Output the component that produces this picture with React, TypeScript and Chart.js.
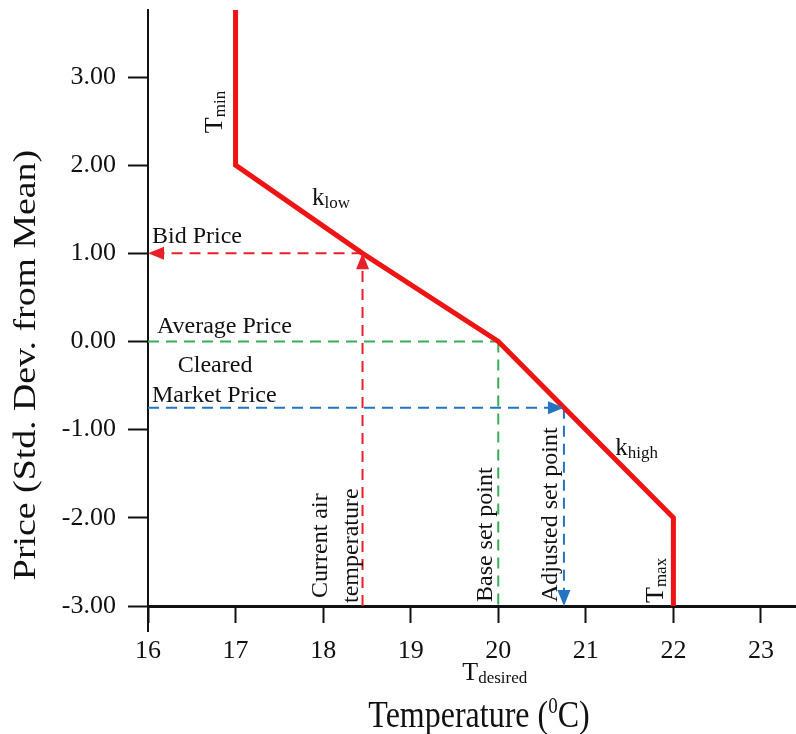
import React, { useEffect, useRef } from 'react';
import { Chart, registerables } from 'chart.js';

Chart.register(...registerables);

// Axis ranges and ticks
const X_MIN = 16;
const X_MAX = 23.4;
const Y_MIN = -3;
const Y_MAX = 3.76;
const xTicks = [16, 17, 18, 19, 20, 21, 22, 23];
const yTicks = [-3, -2, -1, 0, 1, 2, 3];

// Bid curve: temperature (°C) against price (std. dev. from mean)
const curveTemp = [17, 17, 18.45, 20, 22, 22];
const curvePrice = [Y_MAX, 2, 1, 0, -2, -3];

// Operating points
const currentTemp = 18.45;
const bidPrice = 1;
const baseSetPoint = 20;
const averagePrice = 0;
const clearedPrice = -0.75;
const adjustedSetPoint = 20.75;

const RED = '#ee1414';
const RED_DASH = '#e8202a';
const GREEN = '#35ad5a';
const BLUE = '#2474c2';
const INK = '#111';
const SERIF = "'Liberation Serif', 'Times New Roman', serif";

type Guide = { label: string; xs: number[]; ys: number[]; color: string; arrow: boolean };

const guides: Guide[] = [
  { label: 'Current air temperature', xs: [currentTemp, currentTemp], ys: [Y_MIN, bidPrice], color: RED_DASH, arrow: true },
  { label: 'Bid Price', xs: [currentTemp, X_MIN], ys: [bidPrice, bidPrice], color: RED_DASH, arrow: true },
  { label: 'Average Price', xs: [X_MIN, baseSetPoint], ys: [averagePrice, averagePrice], color: GREEN, arrow: false },
  { label: 'Base set point', xs: [baseSetPoint, baseSetPoint], ys: [averagePrice, Y_MIN], color: GREEN, arrow: false },
  { label: 'Cleared Market Price', xs: [X_MIN, adjustedSetPoint], ys: [clearedPrice, clearedPrice], color: BLUE, arrow: true },
  { label: 'Adjusted set point', xs: [adjustedSetPoint, adjustedSetPoint], ys: [clearedPrice, Y_MIN], color: BLUE, arrow: true },
];

// Text annotations anchored in chart coordinates.
// parts: [text, fontSize, baseline shift (px, positive = down in text frame)]
type Part = [string, number, number];
type Note = { x: number; y: number; rot: boolean; align?: CanvasTextAlign; parts: Part[] };

const notes: Note[] = [
  { x: 16.046, y: 1.117, rot: false, parts: [['Bid Price', 24, 0]] },
  { x: 16.103, y: 0.096, rot: false, parts: [['Average Price', 24, 0]] },
  { x: 16.766, y: -0.346, rot: false, align: 'center', parts: [['Cleared', 24, 0]] },
  { x: 16.046, y: -0.687, rot: false, parts: [['Market Price', 24, 0]] },
  { x: 17.874, y: 1.548, rot: false, parts: [['k', 25, 0], ['low', 17, 3]] },
  { x: 21.337, y: -1.288, rot: false, parts: [['k', 25, 0], ['high', 17, 3]] },
  { x: 16.846, y: 2.363, rot: true, parts: [['T', 26, 0], ['min', 17, 3]] },
  { x: 21.886, y: -2.966, rot: true, parts: [['T', 26, 0], ['max', 17, 3]] },
  { x: 19.589, y: -3.839, rot: false, parts: [['T', 26, 0], ['desired', 17, 3]] },
  { x: 18.046, y: -2.909, rot: true, parts: [['Current air', 24, 0]] },
  { x: 18.4, y: -2.966, rot: true, parts: [['temperature', 24, 0]] },
  { x: 19.931, y: -2.955, rot: true, parts: [['Base set point', 24, 0]] },
  { x: 20.674, y: -2.955, rot: true, parts: [['Adjusted set point', 24, 0]] },
];

function drawParts(ctx: CanvasRenderingContext2D, parts: Part[], align: CanvasTextAlign) {
  let total = 0;
  for (const [t, s] of parts) {
    ctx.font = `${s}px ${SERIF}`;
    total += ctx.measureText(t).width;
  }
  let cx = align === 'center' ? -total / 2 : 0;
  for (const [t, s, dy] of parts) {
    ctx.font = `${s}px ${SERIF}`;
    ctx.fillText(t, cx, dy);
    cx += ctx.measureText(t).width;
  }
}

const annotationPlugin = {
  id: 'annotations',
  afterDatasetsDraw(chart: any) {
    const { ctx } = chart;
    const xs = chart.scales.x;
    const ys = chart.scales.y;

    // arrowheads at the end of guide lines
    chart.data.datasets.forEach((ds: any) => {
      if (!ds.arrow) return;
      const pts = ds.data;
      const a = pts[pts.length - 2];
      const b = pts[pts.length - 1];
      const x1 = xs.getPixelForValue(a.x), y1 = ys.getPixelForValue(a.y);
      const x2 = xs.getPixelForValue(b.x), y2 = ys.getPixelForValue(b.y);
      const ang = Math.atan2(y2 - y1, x2 - x1);
      const len = 16, hw = 6.5;
      ctx.save();
      ctx.translate(x2, y2);
      ctx.rotate(ang);
      ctx.beginPath();
      ctx.moveTo(0, 0);
      ctx.lineTo(-len, -hw);
      ctx.lineTo(-len, hw);
      ctx.closePath();
      ctx.fillStyle = ds.borderColor;
      ctx.fill();
      ctx.restore();
    });
  },
  afterDraw(chart: any) {
    const { ctx } = chart;
    const xs = chart.scales.x;
    const ys = chart.scales.y;
    ctx.save();
    ctx.fillStyle = INK;
    ctx.textBaseline = 'alphabetic';
    ctx.textAlign = 'left';
    for (const n of notes) {
      const px = xs.getPixelForValue(n.x);
      const py = ys.getPixelForValue(n.y);
      ctx.save();
      ctx.translate(px, py);
      if (n.rot) ctx.rotate(-Math.PI / 2);
      drawParts(ctx, n.parts, n.align || 'left');
      ctx.restore();
    }

    // the vertical axis line continues a little below the horizontal axis
    const x0 = xs.getPixelForValue(X_MIN);
    ctx.strokeStyle = INK;
    ctx.lineWidth = 2;
    ctx.beginPath();
    ctx.moveTo(x0, ys.bottom);
    ctx.lineTo(x0, ys.bottom + 26);
    ctx.stroke();

    // x-axis title
    const xMid = (xs.left + xs.right) / 2 + 7;
    ctx.save();
    ctx.translate(xMid, xs.bottom - 7);
    ctx.scale(1, 1.2);
    drawParts(ctx, [['Temperature (', 32, 0], ['0', 19, -12], ['C)', 32, 0]], 'center');
    ctx.restore();

    // y-axis title
    ctx.save();
    ctx.translate(35, 365);
    ctx.rotate(-Math.PI / 2);
    ctx.scale(1.22, 1);
    drawParts(ctx, [['Price (Std. Dev. from Mean)', 31, 0]], 'center');
    ctx.restore();
    ctx.restore();
  },
};

export default function App() {
  const ref = useRef<HTMLCanvasElement | null>(null);

  useEffect(() => {
    if (!ref.current) return;
    const datasets: any[] = [
      {
        label: 'Bid curve',
        data: curveTemp.map((t, i) => ({ x: t, y: curvePrice[i] })),
        borderColor: RED,
        borderWidth: 5,
        borderJoinStyle: 'miter',
        pointRadius: 0,
        tension: 0,
        fill: false,
      },
      ...guides.map((g) => ({
        label: g.label,
        data: g.xs.map((x, i) => ({ x, y: g.ys[i] })),
        borderColor: g.color,
        borderWidth: 2,
        borderDash: [11, 7],
        pointRadius: 0,
        tension: 0,
        fill: false,
        arrow: g.arrow,
      })),
    ];

    const tickFont = { family: SERIF, size: 26 };

    const chart = new Chart(ref.current, {
      type: 'line',
      data: { datasets },
      options: {
        animation: false,
        responsive: false,
        devicePixelRatio: 1,
        layout: { padding: { top: 10, right: 0, bottom: 0, left: 0 } },
        plugins: { legend: { display: false }, tooltip: { enabled: false } },
        scales: {
          x: {
            type: 'linear',
            min: X_MIN,
            max: X_MAX,
            afterBuildTicks: (s: any) => { s.ticks = xTicks.map((v) => ({ value: v })); },
            afterFit: (s: any) => {
              s.height = 128;
              s.paddingLeft = 0; s.paddingRight = 0; s.paddingTop = 0; s.paddingBottom = 0;
            },
            ticks: { font: tickFont, color: INK, padding: 13, maxRotation: 0, autoSkip: false, callback: (v: any) => String(v) },
            grid: { drawOnChartArea: false, drawTicks: true, tickLength: 17, tickWidth: 2, tickColor: INK },
            border: { display: true, color: INK, width: 3 },
            title: { display: false },
          },
          y: {
            type: 'linear',
            min: Y_MIN,
            max: Y_MAX,
            afterBuildTicks: (s: any) => { s.ticks = yTicks.map((v) => ({ value: v })); },
            afterFit: (s: any) => {
              s.width = 148;
              s.paddingLeft = 0; s.paddingRight = 0; s.paddingTop = 0; s.paddingBottom = 0;
            },
            ticks: { font: tickFont, color: INK, padding: 12, autoSkip: false, callback: (v: any) => Number(v).toFixed(2) },
            grid: { drawOnChartArea: false, drawTicks: true, tickLength: 20, tickWidth: 2, tickColor: INK },
            border: { display: true, color: INK, width: 2 },
            title: { display: false },
          },
        },
      },
      plugins: [annotationPlugin],
    } as any);

    return () => chart.destroy();
  }, []);

  return (
    <div style={{ position: 'fixed', left: 0, top: 0, width: 796, height: 734, background: '#fff' }}>
      <canvas ref={ref} width={796} height={734} style={{ display: 'block', width: 796, height: 734 }} />
    </div>
  );
}
